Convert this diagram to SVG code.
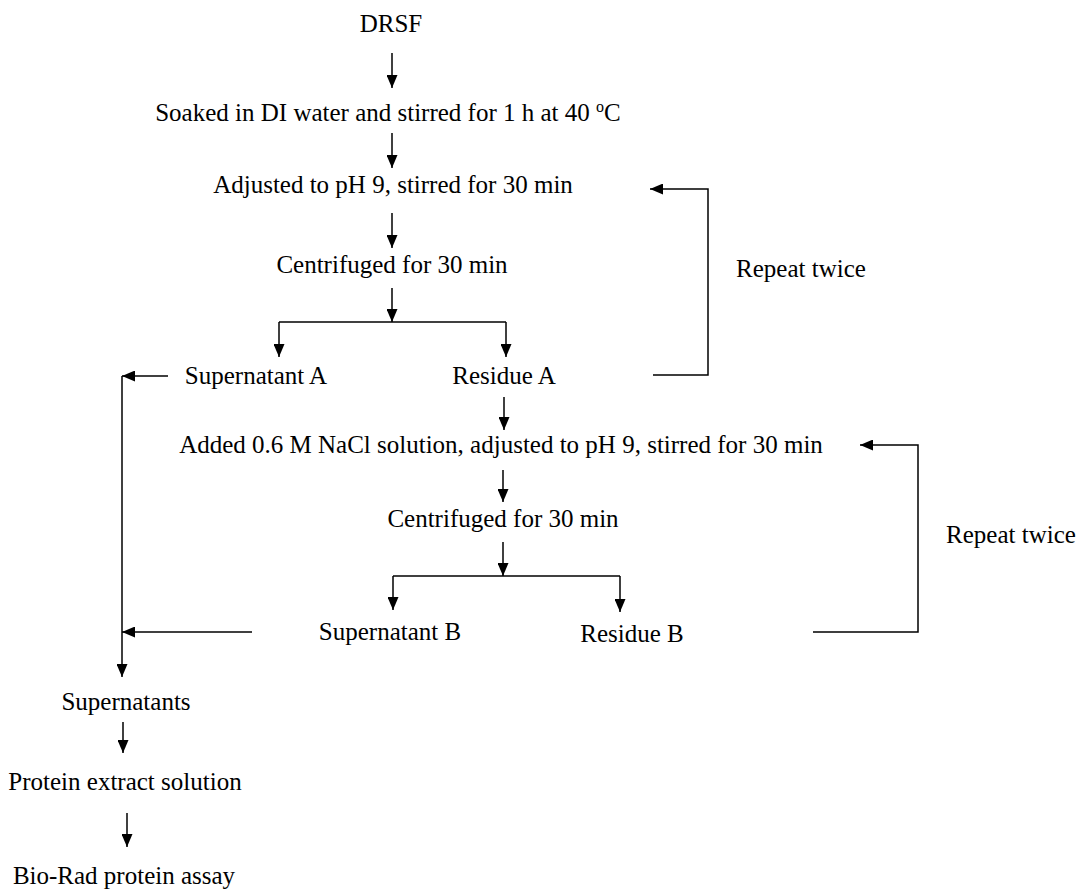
<svg xmlns="http://www.w3.org/2000/svg" width="1079" height="890" viewBox="0 0 1079 890">
<style>
text{font-family:"Liberation Serif","Times New Roman",serif;font-size:25px;fill:#000;text-anchor:middle}
.c line,.c polyline{stroke:#000;stroke-width:1.5;fill:none}
.a{marker-end:url(#ah)}
</style>
<defs>
<marker id="ah" markerUnits="userSpaceOnUse" markerWidth="13" markerHeight="11" refX="13" refY="5.5" orient="auto">
<path d="M0,0 L13,5.5 L0,11 z" fill="#000"/>
</marker>
</defs>
<rect width="1079" height="890" fill="#fff"/>
<g id="n-drsf"><text x="391" y="32">DRSF</text></g>
<g id="n-soak"><text x="388" y="121">Soaked in DI water and stirred for 1 h at 40 <tspan font-size="16" dy="-9">o</tspan><tspan dy="9">C</tspan></text></g>
<g id="n-adj1"><text x="393" y="193">Adjusted to pH 9, stirred for 30 min</text></g>
<g id="n-cent1"><text x="392" y="273">Centrifuged for 30 min</text></g>
<g id="n-supA"><text x="256" y="384">Supernatant A</text></g>
<g id="n-resA"><text x="504" y="384">Residue A</text></g>
<g id="n-rep1"><text x="801" y="277">Repeat twice</text></g>
<g id="n-added"><text x="501" y="453">Added 0.6 M NaCl solution, adjusted to pH 9, stirred for 30 min</text></g>
<g id="n-cent2"><text x="503" y="527">Centrifuged for 30 min</text></g>
<g id="n-supB"><text x="390" y="640">Supernatant B</text></g>
<g id="n-resB"><text x="632" y="642">Residue B</text></g>
<g id="n-rep2"><text x="1011" y="543">Repeat twice</text></g>
<g id="n-sups"><text x="126" y="710">Supernatants</text></g>
<g id="n-extract"><text x="125" y="790">Protein extract solution</text></g>
<g id="n-assay"><text x="124" y="884">Bio-Rad protein assay</text></g>
<g id="connectors" class="c">
<line class="a" x1="392" y1="53" x2="392" y2="88"/>
<line class="a" x1="392" y1="133" x2="392" y2="168"/>
<line class="a" x1="392" y1="213" x2="392" y2="248"/>
<line class="a" x1="392" y1="288" x2="392" y2="322"/>
<line x1="279" y1="322" x2="506" y2="322"/>
<line class="a" x1="279" y1="322" x2="279" y2="357"/>
<line class="a" x1="506" y1="322" x2="506" y2="357"/>
<line class="a" x1="168" y1="376" x2="122" y2="376"/>
<line class="a" x1="122" y1="376" x2="122" y2="677"/>
<polyline class="a" points="653,375 708,375 708,189 650,189"/>
<line class="a" x1="504" y1="397" x2="504" y2="430"/>
<line class="a" x1="503" y1="470" x2="503" y2="502"/>
<line class="a" x1="503" y1="542" x2="503" y2="576"/>
<line x1="393" y1="576" x2="620" y2="576"/>
<line class="a" x1="393" y1="576" x2="393" y2="610"/>
<line class="a" x1="620" y1="576" x2="620" y2="612"/>
<line class="a" x1="252" y1="632" x2="122" y2="632"/>
<polyline class="a" points="813,632 918,632 918,445 860,445"/>
<line class="a" x1="123" y1="722" x2="123" y2="753"/>
<line class="a" x1="127" y1="813" x2="127" y2="847"/>
</g>
</svg>
